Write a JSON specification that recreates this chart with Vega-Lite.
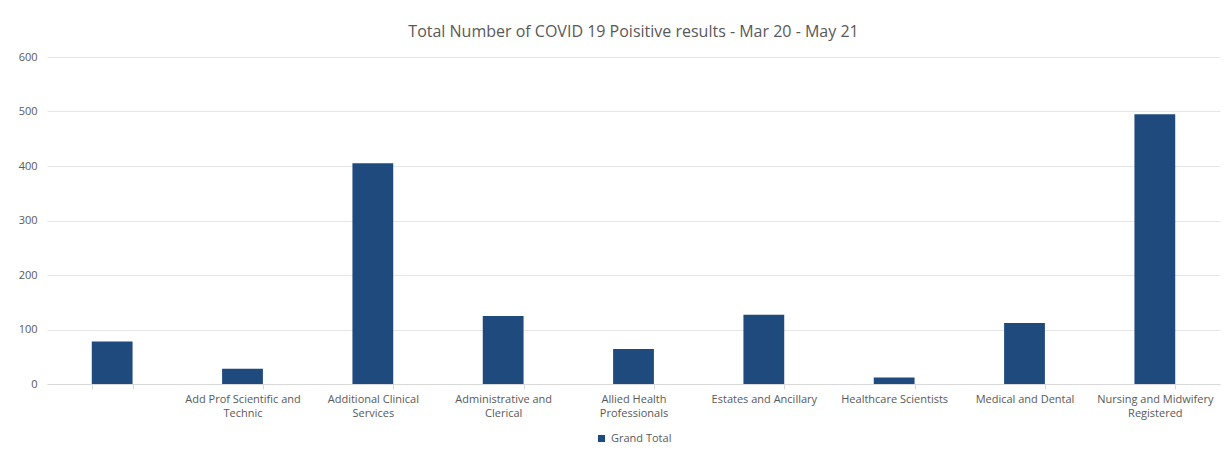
{
  "$schema": "https://vega.github.io/schema/vega-lite/v6.json",
  "width": 1229,
  "height": 450,
  "autosize": {"type": "fit", "contains": "padding"},
  "padding": {"left": 18, "top": 24, "right": 9, "bottom": 6},
  "background": "white",
  "title": {
    "text": "Total Number of COVID 19 Poisitive results - Mar 20 - May 21",
    "font": "Open Sans",
    "fontSize": 16,
    "fontWeight": "normal",
    "color": "#595959",
    "anchor": "middle",
    "offset": 11
  },
  "data": {
    "values": [
      {"staff_group": "(blank)", "series": "Grand Total", "positives": 78},
      {"staff_group": "Add Prof Scientific and Technic", "series": "Grand Total", "positives": 28},
      {"staff_group": "Additional Clinical Services", "series": "Grand Total", "positives": 405},
      {"staff_group": "Administrative and Clerical", "series": "Grand Total", "positives": 125},
      {"staff_group": "Allied Health Professionals", "series": "Grand Total", "positives": 64},
      {"staff_group": "Estates and Ancillary", "series": "Grand Total", "positives": 127},
      {"staff_group": "Healthcare Scientists", "series": "Grand Total", "positives": 12},
      {"staff_group": "Medical and Dental", "series": "Grand Total", "positives": 112},
      {"staff_group": "Nursing and Midwifery Registered", "series": "Grand Total", "positives": 495}
    ]
  },
  "mark": {"type": "bar"},
  "encoding": {
    "x": {
      "field": "staff_group",
      "type": "nominal",
      "sort": null,
      "title": null,
      "scale": {"paddingInner": 0.687, "paddingOuter": 0.3435},
      "axis": {
        "labelAngle": 0,
        "labelFont": "Open Sans",
        "labelFontSize": 11,
        "labelColor": "#595959",
        "labelPadding": 4,
        "labelLineHeight": 14,
        "labelBaseline": "top",
        "tickBand": "extent",
        "tickColor": "#d9d9d9",
        "tickSize": 5,
        "domainColor": "#d9d9d9",
        "grid": false,
        "labelExpr": "datum.value == '(blank)' ? '' : datum.value == 'Add Prof Scientific and Technic' ? ['Add Prof Scientific and', 'Technic'] : datum.value == 'Additional Clinical Services' ? ['Additional Clinical', 'Services'] : datum.value == 'Administrative and Clerical' ? ['Administrative and', 'Clerical'] : datum.value == 'Allied Health Professionals' ? ['Allied Health', 'Professionals'] : datum.value == 'Nursing and Midwifery Registered' ? ['Nursing and Midwifery', 'Registered'] : datum.value"
      }
    },
    "y": {
      "field": "positives",
      "type": "quantitative",
      "title": null,
      "scale": {"domain": [0, 600]},
      "axis": {
        "values": [0, 100, 200, 300, 400, 500, 600],
        "labelFont": "Open Sans",
        "labelFontSize": 11,
        "labelColor": "#595959",
        "labelPadding": 10,
        "domain": false,
        "ticks": false,
        "gridColor": "#e6e6e6",
        "gridWidth": 1
      }
    },
    "color": {
      "field": "series",
      "type": "nominal",
      "title": null,
      "scale": {"range": ["#1f4a7d"]},
      "legend": {
        "orient": "bottom",
        "direction": "horizontal",
        "symbolType": "square",
        "symbolSize": 50,
        "symbolStrokeWidth": 0,
        "labelFont": "Open Sans",
        "labelFontSize": 11,
        "labelColor": "#595959",
        "offset": 15
      }
    }
  },
  "config": {
    "view": {"stroke": null},
    "legend": {"layout": {"bottom": {"anchor": "middle"}}}
  }
}
